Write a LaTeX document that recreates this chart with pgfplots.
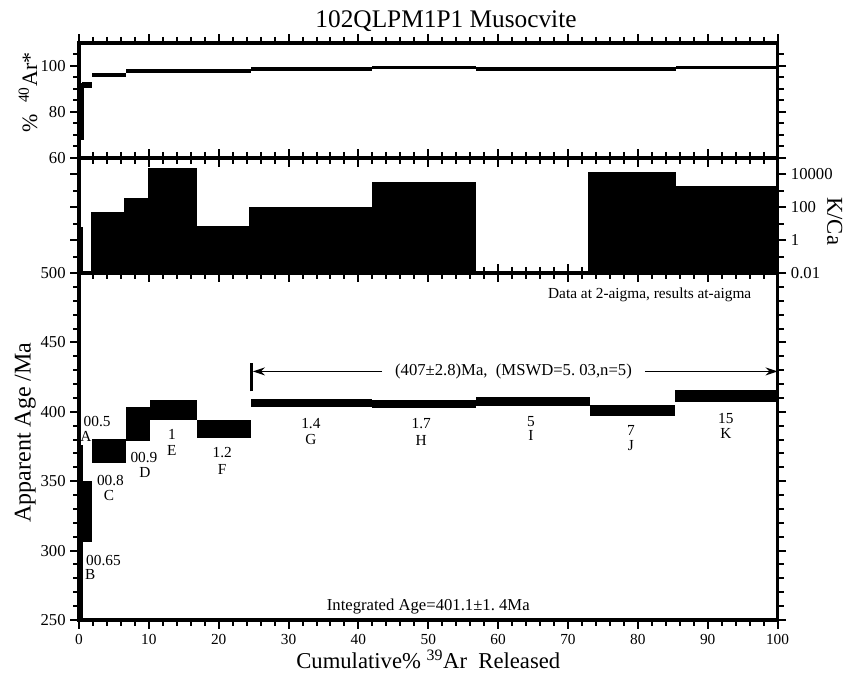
\documentclass[border=0pt]{standalone}
\usepackage{fontspec}
\setmainfont{Liberation Serif}
\usepackage{pgfplots}
\pgfplotsset{compat=1.18}
\usetikzlibrary{arrows.meta}

\newcommand{\fs}[1]{\fontsize{#1}{#1}\selectfont}
% one heating step: x from, x to, y low, y high
\newcommand{\stepbox}[4]{\addplot[fill=black,draw=none] coordinates {(#1,#3) (#2,#3) (#2,#4) (#1,#4)} -- cycle;}

\pgfplotsset{
  panel/.style={
    scale only axis, width=523.9pt, xmin=0, xmax=100,
    anchor=south west, axis on top,
    axis line style={line width=2.4pt},
    tick align=outside, xtick pos=both, ytick pos=both,
    xtick={0,10,...,100}, minor x tick num=4,
    major tick length=6.5pt, minor tick length=4.5pt,
    tick style={black, line width=1.5pt},
    /pgf/number format/assume math mode=true,
    xticklabel style={font=\fs{11.5}, yshift=-1pt},
    yticklabel style={font=\fs{12.5}},
  },
}

\begin{document}
\begin{tikzpicture}
\useasboundingbox (0,0) rectangle (634.5pt,505.5pt);

% title
\node[font=\fs{19}] at (334.5pt,489.5pt) {102QLPM1P1 Musocvite};

% %40Ar*
\begin{axis}[panel, at={(59.25pt,387pt)}, height=86.25pt,
  ymin=60, ymax=110, ytick={60,80,100}, minor ytick={65,70,75,85,90,95,105},
  xticklabels={},
  ylabel={\%\ \ \textsuperscript{40}Ar*},
  ylabel style={at={(axis description cs:-0.073,0.57)}, anchor=center, font=\fs{16.5}}]
\stepbox{0}{0.7}{67.8}{92.8}
\stepbox{0.4}{1.9}{90.6}{93.2}
\stepbox{1.9}{6.7}{95.4}{97.1}
\stepbox{6.7}{10.1}{97.1}{98.8}
\stepbox{10.1}{16.9}{97.1}{98.8}
\stepbox{16.9}{24.6}{97.1}{98.8}
\stepbox{24.6}{42}{98.0}{99.6}
\stepbox{42}{56.9}{98.5}{100.1}
\stepbox{56.9}{73.1}{97.9}{99.4}
\stepbox{73.1}{85.4}{97.9}{99.4}
\stepbox{85.4}{100}{98.6}{100.2}
\end{axis}

% K/Ca
\begin{axis}[panel, at={(59.25pt,300.75pt)}, height=86.25pt,
  ymode=log, ymin=0.01, ymax=100000,
  ytick={0.01,1,100,10000}, yticklabels={0.01,1,100,10000},
  minor ytick={0.1,10,1000,100000},
  yticklabel pos=right, xticklabels={},
  ylabel={K/Ca},
  ylabel style={at={(axis description cs:1.082,0.45)}, anchor=center, rotate=180, font=\fs{17}}]
\stepbox{0}{0.6}{0.01}{6}
\stepbox{1.67}{6.5}{0.01}{49}
\stepbox{6.5}{9.9}{0.01}{355}
\stepbox{9.9}{16.9}{0.01}{23600}
\stepbox{16.9}{24.3}{0.01}{7.3}
\stepbox{24.3}{42}{0.01}{100}
\stepbox{42}{56.9}{0.01}{3300}
\stepbox{72.9}{85.5}{0.01}{13500}
\stepbox{85.5}{100}{0.01}{2000}
\end{axis}

% apparent age spectrum
\begin{axis}[panel, at={(59.25pt,40.5pt)}, height=260.25pt,
  ymin=250, ymax=500, ytick={250,300,...,500}, minor y tick num=4,
  xlabel={Cumulative\% \textsuperscript{39}Ar\ \ Released},
  xlabel style={at={(axis description cs:0.5,-0.114)}, anchor=center, inner sep=0pt, font=\fs{17}},
  ylabel={Apparent Age /Ma},
  ylabel style={at={(axis description cs:-0.077,0.54)}, anchor=center, font=\fs{18}}]
\stepbox{0}{0.62}{250}{376}
\stepbox{0.62}{1.91}{306}{350}
\stepbox{1.91}{6.7}{363}{380.5}
\stepbox{6.7}{10.2}{379.3}{403.4}
\stepbox{10.2}{16.9}{394.2}{408.6}
\stepbox{16.9}{24.6}{381}{393.8}
\stepbox{24.6}{42}{403.8}{409.4}
\stepbox{42}{56.9}{402.7}{408.7}
\stepbox{56.9}{73.1}{404.3}{411}
\stepbox{73.1}{85.3}{397.3}{405}
\stepbox{85.3}{100}{407}{415.4}
% plateau
\addplot[line width=1.6pt] coordinates {(24.7,414.7) (24.7,435.1)};
\addplot[line width=1.1pt, -{Stealth[length=9pt,width=6pt]}] coordinates {(43.4,429.1) (24.9,429.1)};
\addplot[line width=1.1pt, -{Stealth[length=9pt,width=6pt]}] coordinates {(81,429.1) (100,429.1)};
\node[font=\fs{12.5}] at (axis cs:62.2,429.1) {(407±2.8)Ma,\ \ (MSWD=5.\ 03,n=5)};
\node[font=\fs{11.5}] at (axis cs:81.7,484.4) {Data at 2-aigma, results at-aigma};
\node[font=\fs{12.5}] at (axis cs:50,259.5) {Integrated Age=401.1±1.\ 4Ma};
% step labels
\begin{scope}[every node/.style={font=\fs{11.5}, inner sep=0pt}]
\node at (axis cs:2.6,393.2) {00.5};  \node at (axis cs:1.0,382.0) {A};
\node at (axis cs:3.5,293) {00.65};   \node at (axis cs:1.6,283.0) {B};
\node at (axis cs:4.5,350.7) {00.8};  \node at (axis cs:4.3,340.0) {C};
\node at (axis cs:9.3,367) {00.9};    \node at (axis cs:9.45,356.3) {D};
\node at (axis cs:13.3,383.6) {1};    \node at (axis cs:13.3,371.9) {E};
\node at (axis cs:20.5,370.4) {1.2};  \node at (axis cs:20.5,358.3) {F};
\node at (axis cs:33.2,391.5) {1.4};  \node at (axis cs:33.2,380.3) {G};
\node at (axis cs:49.0,391.5) {1.7};  \node at (axis cs:49.0,379.1) {H};
\node at (axis cs:64.7,392.8) {5};    \node at (axis cs:64.7,382.7) {I};
\node at (axis cs:79.0,386.8) {7};    \node at (axis cs:79.0,375.5) {J};
\node at (axis cs:92.6,395.2) {15};   \node at (axis cs:92.6,384.3) {K};
\end{scope}
\end{axis}
\end{tikzpicture}
\end{document}
